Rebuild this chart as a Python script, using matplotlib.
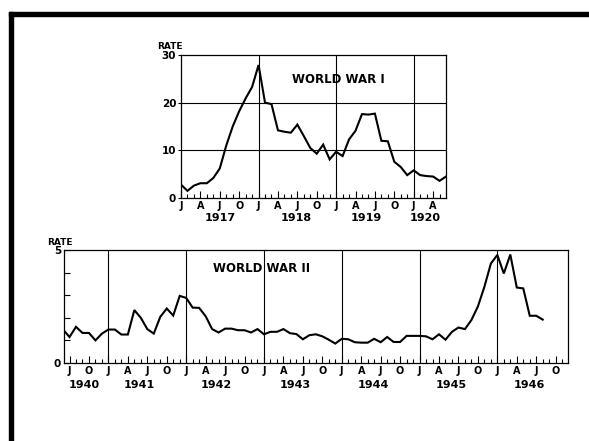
import matplotlib.pyplot as plt
from matplotlib.patches import Rectangle
import numpy as np

# ---- data ----
# World War I: monthly rate, Jan 1917 .. Jun 1920 (month 0 = Jan 1917)
wwi_rate = [2.8, 1.5, 2.6, 3.1, 3.1, 4.2, 6.2, 11.0, 15.0, 18.2, 20.9, 23.3,
            27.9, 20.0, 19.7, 14.2, 13.9, 13.7, 15.4, 13.0, 10.5, 9.3, 11.2, 8.1,
            9.7, 8.8, 12.3, 14.1, 17.6, 17.5, 17.7, 12.0, 11.9, 7.6, 6.5, 4.8,
            5.8, 4.8, 4.6, 4.5, 3.6, 4.5]
wwi_years = ["1917", "1918", "1919", "1920"]

# World War II: monthly rate, Jun 1940 .. Aug 1946 (month 0 = Jan 1940)
wwii_first_month = 5
wwii_rate = [1.48, 1.15, 1.6, 1.33, 1.33, 1.0, 1.3,
             1.48, 1.48, 1.26, 1.26, 2.34, 2.0, 1.5, 1.3, 2.04, 2.41, 2.1, 2.97,
             2.88, 2.45, 2.44, 2.07, 1.5, 1.35, 1.52, 1.52, 1.45, 1.45, 1.35, 1.5,
             1.27, 1.38, 1.38, 1.5, 1.32, 1.28, 1.05, 1.23, 1.27, 1.18, 1.03, 0.86,
             1.07, 1.05, 0.92, 0.9, 0.9, 1.07, 0.92, 1.15, 0.93, 0.93, 1.2, 1.2,
             1.2, 1.18, 1.05, 1.27, 1.03, 1.38, 1.57, 1.5, 1.9, 2.5, 3.37, 4.4,
             4.78, 3.96, 4.8, 3.34, 3.3, 2.09, 2.09, 1.92]
wwii_years = ["1940", "1941", "1942", "1943", "1944", "1945", "1946"]

quarter_letters = ["J", "A", "J", "O"]

# ---- layout (pixels of a 589x441 picture) ----
W, H = 589, 441
WWI_YEAR_X = [6.0, 17.9, 28.6, 37.8]
WWII_YEAR_X = [8.3, 16.8, 28.6, 40.9, 52.9, 64.9, 76.9]

plt.rcParams["font.family"] = "DejaVu Sans"
plt.rcParams["font.weight"] = "bold"


def px_rect(left, top, right, bottom):
    return [left / W, 1 - bottom / H, (right - left) / W, (bottom - top) / H]


def style_axes(ax, first, last):
    for sp in ax.spines.values():
        sp.set_linewidth(0.9)
    majors = [m for m in range(int(np.ceil(first)), int(last) + 1) if m % 3 == 0]
    ax.set_xticks(majors)
    ax.set_xticklabels([quarter_letters[(m % 12) // 3] for m in majors])
    ax.set_xticks(range(int(np.ceil(first)), int(last) + 1), minor=True)
    ax.tick_params(axis="x", which="major", direction="in", length=5,
                   width=0.8, pad=2, labelsize=7)
    ax.tick_params(axis="x", which="minor", direction="in", length=3, width=0.8)


fig = plt.figure(figsize=(W / 100, H / 100), dpi=100)

# ---- World War I ----
ax1 = fig.add_axes(px_rect(181, 55, 446, 198))
x1 = np.arange(len(wwi_rate))
ax1.plot(x1, wwi_rate, color="black", lw=1.5, solid_joinstyle="miter")
ax1.set_xlim(0, 41)
ax1.set_ylim(0, 30)
for yv in (10, 20):
    ax1.axhline(yv, color="black", lw=0.8)
for m in (12, 24, 36):
    ax1.axvline(m, color="black", lw=0.8)
style_axes(ax1, 0, 41)
ax1.set_yticks([0, 10, 20, 30])
ax1.tick_params(axis="y", direction="out", length=2, width=0.8, pad=1.5,
                labelsize=7.5)
ax1.text(-0.09, 1.056, "RATE", transform=ax1.transAxes, ha="left",
         va="center", fontsize=6.5)
ax1.text(24.3, 24.8, "WORLD WAR I", ha="center", va="center", fontsize=8.5)
for label, xm in zip(wwi_years, WWI_YEAR_X):
    ax1.text(xm, -0.14, label, transform=ax1.get_xaxis_transform(),
             ha="center", va="center", fontsize=8)

# ---- World War II ----
ax2 = fig.add_axes(px_rect(64, 250, 568, 363))
x2 = np.arange(len(wwii_rate)) + wwii_first_month
ax2.plot(x2, wwii_rate, color="black", lw=1.5, solid_joinstyle="miter")
ax2.set_xlim(5.15, 82.9)
ax2.set_ylim(0, 5)
for m in range(12, 84, 12):
    ax2.axvline(m, color="black", lw=0.8)
style_axes(ax2, 5.15, 82.9)
ax2.set_yticks(range(6))
ax2.set_yticklabels(["0", "", "", "", "", "5"])
ax2.tick_params(axis="y", direction="in", length=4, width=0.8, pad=2,
                labelsize=7.5)
ax2.text(-0.034, 1.066, "RATE", transform=ax2.transAxes, ha="left",
         va="center", fontsize=6.5)
ax2.text(35.7, 4.2, "WORLD WAR II", ha="center", va="center", fontsize=8.5)
for label, xm in zip(wwii_years, WWII_YEAR_X):
    ax2.text(xm, -0.195, label, transform=ax2.get_xaxis_transform(),
             ha="center", va="center", fontsize=8)

# ---- black frame on top and left (page border) ----
fig.add_artist(Rectangle((9 / W, 1 - 16 / H), 1, 4 / H,
                         transform=fig.transFigure, color="black"))
fig.add_artist(Rectangle((9 / W, 0), 4 / W, 1 - 12 / H,
                         transform=fig.transFigure, color="black"))

fig.savefig("out.png", dpi=100)
